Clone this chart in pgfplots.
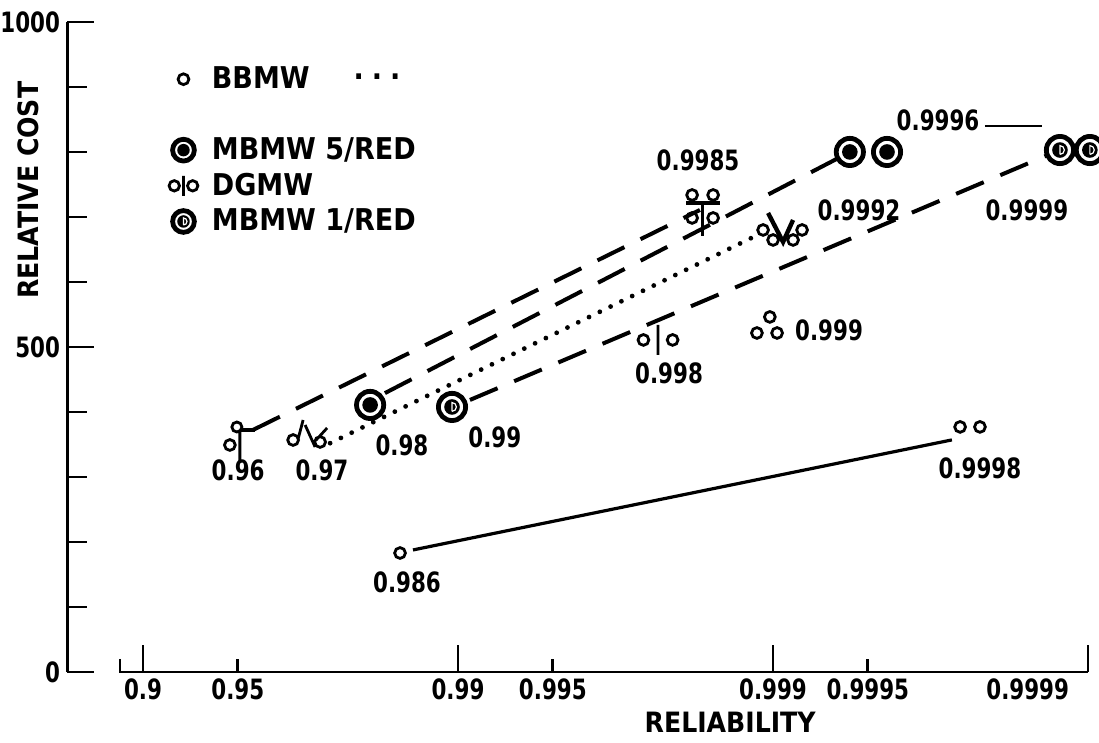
\documentclass[border=0pt]{standalone}
\usepackage{pgfplots}
\pgfplotsset{compat=1.18}
\usepackage{fontspec}
\setmainfont{DejaVu Sans Condensed}
\newfontfamily\nrw{DejaVu Sans Condensed}[FakeStretch=0.85]

% marks (sizes in pt, 1 px of the reference = 0.5 pt)
\pgfdeclareplotmark{bb}{%
  \pgfsetlinewidth{1.4pt}%
  \pgfpathcircle{\pgfpointorigin}{2.7pt}\pgfusepathqstroke}
\pgfdeclareplotmark{mbfive}{%
  \pgfsetlinewidth{2.4pt}%
  \pgfpathcircle{\pgfpointorigin}{6.8pt}\pgfusepathqstroke
  \pgfpathcircle{\pgfpointorigin}{3.9pt}\pgfusepathqfill}
\pgfdeclareplotmark{mbone}{%
  \pgfsetlinewidth{2.4pt}%
  \pgfpathcircle{\pgfpointorigin}{6.8pt}\pgfusepathqstroke
  \pgfpathcircle{\pgfpointorigin}{3.9pt}\pgfusepathqfill
  \begin{pgfscope}
  \pgfsetstrokecolor{white}\pgfsetlinewidth{0.6pt}%
  \pgfpathmoveto{\pgfpoint{0pt}{-2.2pt}}\pgfpathlineto{\pgfpoint{0pt}{2.2pt}}%
  \pgfpatharc{90}{-90}{2.2pt}\pgfusepathqstroke
  \end{pgfscope}}
\pgfdeclareplotmark{dg}{%
  \pgfsetlinewidth{1.4pt}%
  \pgfpathcircle{\pgfpoint{-7.3pt}{0pt}}{2.7pt}%
  \pgfpathcircle{\pgfpoint{7.3pt}{0pt}}{2.7pt}%
  \pgfpathmoveto{\pgfpoint{0pt}{-7.5pt}}\pgfpathlineto{\pgfpoint{0pt}{7.5pt}}%
  \pgfusepathqstroke}
\pgfdeclareplotmark{dgl}{%
  \pgfsetlinewidth{1.4pt}%
  \pgfpathcircle{\pgfpoint{-4.6pt}{0pt}}{2.6pt}%
  \pgfpathcircle{\pgfpoint{4.6pt}{0pt}}{2.6pt}%
  \pgfpathmoveto{\pgfpoint{0pt}{-5pt}}\pgfpathlineto{\pgfpoint{0pt}{5pt}}%
  \pgfusepathqstroke}
\pgfdeclareplotmark{quad}{%
  \pgfsetlinewidth{1.4pt}%
  \pgfpathcircle{\pgfpoint{-5pt}{6pt}}{2.7pt}%
  \pgfpathcircle{\pgfpoint{5.5pt}{6pt}}{2.7pt}%
  \pgfpathcircle{\pgfpoint{-5pt}{-5.5pt}}{2.7pt}%
  \pgfpathcircle{\pgfpoint{5.5pt}{-5.5pt}}{2.7pt}%
  \pgfpathmoveto{\pgfpoint{0.2pt}{1pt}}\pgfpathlineto{\pgfpoint{0.2pt}{-14.5pt}}%
  \pgfusepathqstroke
  \pgfsetlinewidth{2pt}%
  \pgfpathmoveto{\pgfpoint{-8pt}{2.2pt}}\pgfpathlineto{\pgfpoint{9pt}{2.2pt}}%
  \pgfusepathqstroke}
\pgfdeclareplotmark{wmark}{%
  \pgfsetlinewidth{1.4pt}%
  \pgfpathcircle{\pgfpoint{-10pt}{2.5pt}}{2.7pt}%
  \pgfpathcircle{\pgfpoint{-5pt}{-2.5pt}}{2.7pt}%
  \pgfpathcircle{\pgfpoint{5pt}{-2.5pt}}{2.7pt}%
  \pgfpathcircle{\pgfpoint{9.5pt}{2.5pt}}{2.7pt}%
  \pgfusepathqstroke
  \pgfsetlinewidth{2.2pt}%
  \pgfpathmoveto{\pgfpoint{-7.5pt}{11pt}}\pgfpathlineto{\pgfpoint{0pt}{-3.5pt}}%
  \pgfpathlineto{\pgfpoint{5pt}{7.5pt}}\pgfusepathqstroke}
\pgfdeclareplotmark{ddmark}{%
  \pgfsetlinewidth{1.4pt}%
  \pgfpathcircle{\pgfpoint{-7pt}{-1.5pt}}{2.7pt}%
  \pgfpathcircle{\pgfpoint{6.5pt}{-2.5pt}}{2.7pt}%
  \pgfpathmoveto{\pgfpoint{-4.5pt}{-1pt}}\pgfpathlineto{\pgfpoint{-2pt}{8.5pt}}%
  \pgfpathmoveto{\pgfpoint{-1pt}{6pt}}\pgfpathlineto{\pgfpoint{4pt}{-5pt}}%
  \pgfpathmoveto{\pgfpoint{10pt}{4.5pt}}\pgfpathlineto{\pgfpoint{4.5pt}{-1.5pt}}%
  \pgfusepathqstroke}
\pgfdeclareplotmark{qmark}{%
  \pgfsetlinewidth{1.4pt}%
  \pgfpathcircle{\pgfpoint{0pt}{5pt}}{2.5pt}%
  \pgfpathcircle{\pgfpoint{-3.5pt}{-4pt}}{2.7pt}%
  \pgfpathmoveto{\pgfpoint{1.5pt}{3pt}}\pgfpathlineto{\pgfpoint{1.5pt}{-13pt}}%
  \pgfusepathqstroke
  \pgfsetlinewidth{1.8pt}%
  \pgfpathmoveto{\pgfpoint{1.5pt}{3.5pt}}\pgfpathlineto{\pgfpoint{9pt}{3.5pt}}%
  \pgfusepathqstroke}

\begin{document}
\begin{tikzpicture}[lab/.style={font=\fontsize{14}{16}\selectfont\nrw\bfseries, inner sep=0pt},
    ttl/.style={font=\fontsize{14}{16}\selectfont\bfseries, inner sep=0pt}]
\begin{axis}[
    x=157.5pt, y=0.325pt,
    xmin=0.759, xmax=4.03, ymin=0, ymax=1000,
    clip=false,
    axis y line*=left, axis x line*=bottom,
    x axis line style={opacity=0},
    y axis line style={line width=1.5pt},
    tick align=inside,
    major tick length=13.5pt, minor tick length=10pt,
    every tick/.style={black, line width=1.4pt},
    xtick={1,2,3,4}, xticklabels={0.9,0.99,0.999,\llap{0.9999\hspace{9.5pt}}},
    extra x ticks={1.30103,2.30103,3.30103},
    extra x tick labels={0.95,0.995,0.9995},
    extra x tick style={major tick length=6.5pt},
    ytick={0,500,1000}, yticklabels={0,500,1000},
    minor ytick={100,200,...,900},
    tick label style={font=\fontsize{14}{16}\selectfont\nrw\bfseries},
    /pgf/number format/assume math mode=true,
    legend style={at={(axis cs:1.054,944)}, anchor=north west, draw=none, fill=none,
        font=\fontsize{15}{18}\selectfont\bfseries, row sep=1.3pt, column sep=5pt},
    legend cell align=left,
]
% dashed lines
\addplot[forget plot, black, line width=2pt, dash pattern=on 15pt off 9pt]
    coordinates {(1.349,372.3) (2.768,710.8)};
\addplot[forget plot, black, line width=2pt, dash pattern=on 15pt off 9pt]
    coordinates {(1.768,429) (2.768,680) (3.213,792)};
\addplot[forget plot, black, line width=2pt, dash pattern=on 15pt off 9pt]
    coordinates {(2.038,418.5) (3.873,795.4)};
% dotted
\addplot[forget plot, black, line width=2.4pt, line cap=round, dash pattern=on 0pt off 6pt]
    coordinates {(1.594,352) (2.937,669)};
% solid
\addplot[forget plot, black, line width=1.6pt]
    coordinates {(1.857,187.7) (3.568,357)};
\addplot[forget plot, black, line width=0.8pt]
    coordinates {(3.673,840) (3.854,840)};

% points
\addplot[forget plot, black, only marks, mark=bb] coordinates {
    (1.816,183) (3.594,377) (3.657,377) (2.949,521.5) (3.013,521.5) (2.990,546.2)};
\addplot[forget plot, black, only marks, mark=mbfive] coordinates {
    (1.721,410.8) (3.244,800) (3.362,800)};
\addplot[forget plot, black, only marks, mark=mbone] coordinates {
    (1.981,407.7) (3.911,803) (4.006,803)};
\addplot[forget plot, black, only marks, mark=dg] coordinates {(2.635,510.8)};
\addplot[forget plot, black, only marks, mark=quad] coordinates {(2.775,715.4)};
\addplot[forget plot, black, only marks, mark=wmark] coordinates {(3.032,672.3)};
\addplot[forget plot, black, only marks, mark=ddmark] coordinates {(1.521,361.5)};
\addplot[forget plot, black, only marks, mark=qmark] coordinates {(1.298,361.5)};

% legend
\addlegendimage{black, only marks, mark=bb}
\addlegendentry{BBMW\hspace{22pt}\raisebox{0.3em}{.\hspace{4pt}.\hspace{4pt}.}}
\addlegendimage{empty legend}
\addlegendentry{\phantom{M}}
\addlegendimage{black, only marks, mark=mbfive, mark options={scale=0.8}}
\addlegendentry{MBMW 5/RED}
\addlegendimage{black, only marks, mark=dgl}
\addlegendentry{DGMW}
\addlegendimage{black, only marks, mark=mbone, mark options={scale=0.8}}
\addlegendentry{MBMW 1/RED}

% point labels
\node[lab] at (axis cs:1.302,310.8) {0.96};
\node[lab] at (axis cs:1.568,310.8) {0.97};
\node[lab] at (axis cs:1.822,349) {0.98};
\node[lab] at (axis cs:2.117,361.5) {0.99};
\node[lab] at (axis cs:1.838,138.5) {0.986};
\node[lab] at (axis cs:2.670,460) {0.998};
\node[lab] at (axis cs:3.178,526) {0.999};
\node[lab] at (axis cs:2.762,787.7) {0.9985};
\node[lab] at (axis cs:3.273,710.8) {0.9992};
\node[lab] at (axis cs:3.524,849) {0.9996};
\node[lab] at (axis cs:3.806,710.8) {0.9999};
\node[lab] at (axis cs:3.657,313.8) {0.9998};

% axis titles and the detached x axis line
\node[ttl, rotate=90] at (axis cs:0.635,741) {RELATIVE COST};
\node[ttl] at (axis cs:2.864,-77) {RELIABILITY};
\draw[line width=1.2pt] (axis cs:0.927,20) -- (axis cs:0.927,0) -- (axis cs:4.0,0);

\coordinate (bbsw) at (axis cs:0.546,-109.2);
\coordinate (bbne) at (axis cs:4.035,1033.8);
\end{axis}
\pgfresetboundingbox
\path[use as bounding box] (bbsw) rectangle (bbne);
\end{tikzpicture}
\end{document}
